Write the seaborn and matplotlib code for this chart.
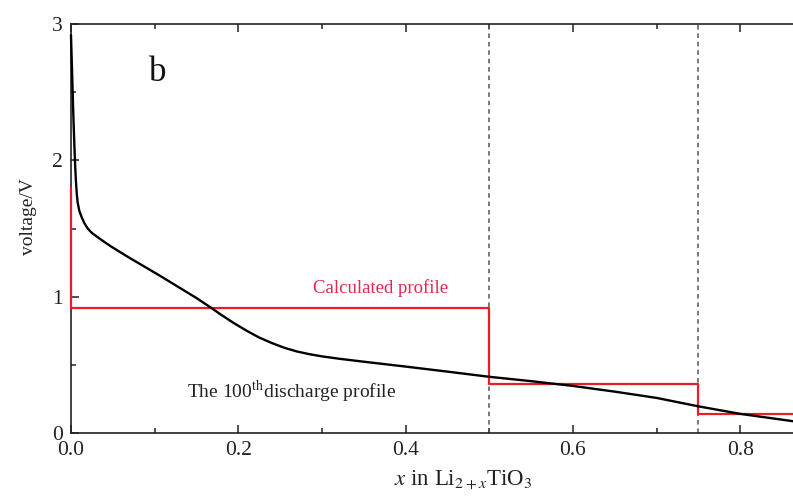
import matplotlib
matplotlib.use("Agg")
import matplotlib.pyplot as plt
import seaborn as sns
import pandas as pd
from matplotlib.ticker import MultipleLocator

# 100th discharge profile (x in Li2+xTiO3, voltage in V)
discharge_x = [0.0, 0.001, 0.002, 0.003, 0.004, 0.005, 0.006, 0.007, 0.008, 0.010,
               0.013, 0.016, 0.020, 0.025, 0.030, 0.038, 0.047, 0.058, 0.070, 0.088,
               0.106, 0.130, 0.150, 0.166, 0.180, 0.195, 0.210, 0.225, 0.240, 0.255,
               0.270, 0.285, 0.300, 0.320, 0.340, 0.365, 0.400, 0.450, 0.500, 0.550,
               0.600, 0.650, 0.700, 0.750, 0.800, 0.870]
discharge_v = [2.92, 2.72, 2.50, 2.30, 2.12, 1.96, 1.84, 1.75, 1.69, 1.63,
               1.58, 1.54, 1.50, 1.468, 1.445, 1.41, 1.372, 1.33, 1.285, 1.22,
               1.155, 1.065, 0.99, 0.925, 0.865, 0.805, 0.75, 0.70, 0.66, 0.625,
               0.598, 0.578, 0.562, 0.545, 0.530, 0.512, 0.487, 0.450, 0.412, 0.380,
               0.345, 0.303, 0.257, 0.195, 0.140, 0.080]

# Calculated step profile: plateau boundaries and plateau voltages
calc_start_v = 1.80
calc_edges = [0.0, 0.5, 0.75, 0.87]
calc_levels = [0.92, 0.36, 0.14]

# Phase boundaries
boundaries = [0.5, 0.75]

sns.set_theme(style="ticks")
plt.rcParams["font.family"] = ["Liberation Serif", "DejaVu Serif"]
plt.rcParams["mathtext.fontset"] = "stix"

fig = plt.figure(figsize=(7.93, 5.04), dpi=100)
ax = fig.add_axes([0.0895, 0.141, 0.9105, 0.811])

# Build the step polyline from the plateau arrays
step_x = [calc_edges[0]]
step_v = [calc_start_v]
for i, lvl in enumerate(calc_levels):
    step_x += [calc_edges[i], calc_edges[i + 1]]
    step_v += [lvl, lvl]
calc_df = pd.DataFrame({"x": step_x, "v": step_v})
dis_df = pd.DataFrame({"x": discharge_x, "v": discharge_v})

for b in boundaries:
    ax.axvline(b, color="#555555", linestyle=(0, (3, 2.5)), linewidth=1.1, zorder=1)

sns.lineplot(data=calc_df, x="x", y="v", sort=False, estimator=None,
             color="#ec1c27", linewidth=1.6, ax=ax, zorder=3)
sns.lineplot(data=dis_df, x="x", y="v", sort=False, estimator=None,
             color="black", linewidth=1.7, ax=ax, zorder=4)
for line in ax.lines[len(boundaries):]:
    line.set_solid_joinstyle("round")
    line.set_clip_on(False)

ax.set_xlim(0, 0.863)
ax.set_ylim(0, 3)
ax.xaxis.set_minor_locator(MultipleLocator(0.1))
ax.yaxis.set_minor_locator(MultipleLocator(0.5))
ax.set_xticks([0.0, 0.2, 0.4, 0.6, 0.8])
ax.set_xticklabels(["0.0", "0.2", "0.4", "0.6", "0.8"])
ax.set_yticks([0, 1, 2, 3])
ax.set_yticklabels(["0", "1", "2", "3"])

ax.tick_params(which="both", direction="in", top=True, right=False,
               labelsize=15.5, colors="#222222", width=1.1)
ax.tick_params(which="major", length=6, pad=6)
ax.tick_params(which="minor", length=3.5)
ax.spines["right"].set_visible(False)
for s in ["left", "bottom", "top"]:
    ax.spines[s].set_linewidth(1.2)
    ax.spines[s].set_color("#222222")

ax.set_xlabel(r"$\mathit{x}$ in Li$_{2+\mathit{x}}$TiO$_3$", fontsize=16.5, color="#222222")
ax.xaxis.set_label_coords(0.543, -0.088)
ax.set_ylabel("voltage/V", fontsize=14, color="#222222")
ax.yaxis.set_label_coords(-0.047, 0.53)

ax.text(0.093, 2.58, "b", fontsize=25, color="#111111")
ax.text(0.37, 1.06, "Calculated profile", fontsize=13.5, color="#e0294f",
        ha="center", va="center")
ax.text(0.139, 0.30, r"The 100$^{\mathrm{th}}$discharge profile", fontsize=14,
        color="#222222", ha="left", va="center")

fig.savefig("out.png", dpi=100, facecolor="white")
